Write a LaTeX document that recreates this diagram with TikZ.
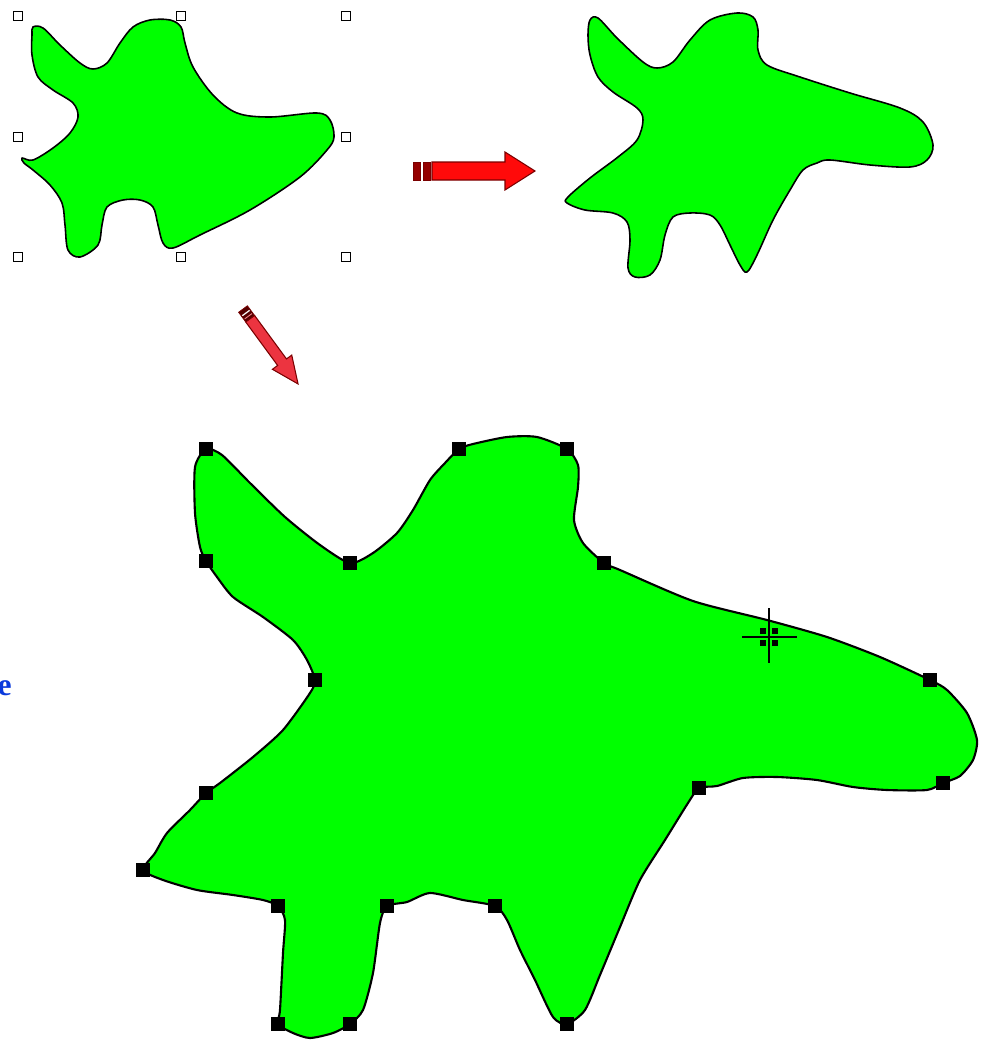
\documentclass[tikz,border=0pt]{standalone}
\usepackage{fontspec}
\newfontfamily\serifb{Liberation Serif}
\definecolor{shapegreen}{HTML}{00FF00}
\definecolor{arrowred}{HTML}{FF0A0A}
\definecolor{darkred}{HTML}{7A0000}
\definecolor{pencilred}{HTML}{EC3440}
\definecolor{textblue}{HTML}{0A3ADC}
\begin{document}
\begin{tikzpicture}[x=0.02cm,y=-0.02cm,
  blob/.style={fill=shapegreen,draw=black,line width=0.9pt,line join=round},
  bigblob/.style={fill=shapegreen,draw=black,line width=1.2pt,line join=round},
  handle/.style={draw=black,fill=white,line width=0.6pt,minimum size=0.17cm,inner sep=0pt,rectangle},
  node/.style={fill=black,draw=none,minimum size=0.27cm,inner sep=0pt,rectangle},
  blockarrow/.style={fill=arrowred,draw=darkred,line width=0.6pt,line join=miter},
  pencil/.style={fill=pencilred,draw=darkred,line width=0.6pt}]
\useasboundingbox (0,0) rectangle (982,1041);

% ---------- top-left shape with selection handles ----------
\draw[blob] plot[smooth cycle,tension=0.55] coordinates {
 (33,27) (43,28) (60,45) (80,63) (93,69) (107,63) (120,43) (133,27) (150,20) (170,20)
 (181,27) (185,43) (193,67) (213,95) (237,113) (270,117) (317,113) (330,120) (334,137)
 (327,150) (300,177) (250,210) (200,235) (173,248) (163,243) (158,225) (153,207) (140,200)
 (123,200) (107,207) (102,225) (98,245) (80,257) (68,250) (65,225) (62,203) (50,185)
 (33,170) (24,163) (22,158) (33,160) (53,148) (70,133) (78,117) (73,103) (53,90)
 (38,77) (32,55) (32,35)};
\node[handle] (h1) at (18,16) {};
\node[handle] (h2) at (181,16) {};
\node[handle] (h3) at (346,16) {};
\node[handle] (h4) at (18,137) {};
\node[handle] (h5) at (346,137) {};
\node[handle] (h6) at (18,257) {};
\node[handle] (h7) at (181,257) {};
\node[handle] (h8) at (346,257) {};

% ---------- top-right shape ----------
\draw[blob] plot[smooth cycle,tension=0.55] coordinates {
 (590,20) (598,18) (617,38) (643,62) (657,68) (673,62) (690,40) (710,20) (737,13) (753,17)
 (758,30) (758,50) (767,65) (800,77) (850,93) (900,108) (923,122) (933,145) (927,160)
 (910,167) (870,165) (830,160) (817,163) (803,170) (790,190) (773,220) (757,255) (747,272)
 (740,265) (730,245) (720,225) (710,215) (690,213) (673,217) (665,235) (660,260) (650,275)
 (635,277) (628,268) (630,240) (627,222) (613,213) (585,210) (567,203) (568,197) (590,178)
 (618,157) (637,140) (643,120) (637,108) (613,92) (598,77) (590,55) (588,35)};

% ---------- horizontal block arrow ----------
\draw[fill=darkred!80!red,draw=darkred,line width=0.5pt] (413,162) rectangle (420,180);
\draw[fill=darkred!80!red,draw=darkred,line width=0.5pt] (423,162) rectangle (430,180);
\draw[blockarrow] (432,162) -- (505,162) -- (505,152) -- (535,171) -- (505,190) -- (505,180) -- (432,180) -- cycle;

% ---------- pencil arrow ----------
\begin{scope}[shift={(243,309)},rotate=-53.7]
  \draw[pencil] (12,-5.5) -- (66,-5.5) -- (66,-12) -- (93,0) -- (66,12) -- (66,5.5) -- (12,5.5) -- cycle;
  \draw[fill=darkred!70!black,draw=darkred] (0,-5.5) rectangle (12,5.5);
  \draw[white,line width=0.7pt] (5,-4.5) -- (5,4.5);
  \draw[pencilred!60!white,line width=0.5pt] (9,-4.5) -- (9,4.5);
\end{scope}

% ---------- big shape with node handles ----------
\draw[bigblob] plot[smooth cycle,tension=0.42] coordinates {
 (206,449) (222,455) (250,483) (285,517) (320,545) (350,563) (373,553) (397,533) (413,510)
 (430,480) (445,463) (459,449) (473,444) (507,437) (537,437) (567,449) (578,465) (578,487)
 (574,520) (583,543) (604,563) (620,570) (693,601) (767,620) (827,637) (880,657) (930,680)
 (947,690) (967,713) (977,740) (973,760) (960,776) (943,783) (927,790) (887,790) (853,787)
 (817,780) (777,777) (743,778) (717,786) (699,788) (688,803) (665,840) (640,880) (620,927)
 (600,975) (585,1010) (567,1024) (553,1017) (535,980) (520,950) (507,920) (495,906) (463,900)
 (430,893) (407,902) (387,906) (380,923) (373,973) (363,1010) (350,1024) (333,1033)
 (310,1038) (293,1033) (278,1024) (280,1010) (283,953) (285,920) (278,906) (263,900)
 (233,895) (197,890) (163,880) (143,870) (155,853) (167,833) (190,810) (206,793) (220,783)
 (253,757) (283,730) (310,693) (315,680) (307,660) (293,640) (263,617) (233,597) (217,577)
 (206,561) (200,547) (195,513) (195,467)};
\node[node] (nA) at (206,449) {};
\node[node] (nB) at (206,561) {};
\node[node] (nC) at (350,563) {};
\node[node] (nD) at (459,449) {};
\node[node] (nE) at (567,449) {};
\node[node] (nF) at (604,563) {};
\node[node] (nG) at (930,680) {};
\node[node] (nH) at (943,783) {};
\node[node] (nI) at (699,788) {};
\node[node] (nJ) at (567,1024) {};
\node[node] (nK) at (495,906) {};
\node[node] (nL) at (387,906) {};
\node[node] (nM) at (350,1024) {};
\node[node] (nN) at (278,1024) {};
\node[node] (nO) at (278,906) {};
\node[node] (nP) at (143,870) {};
\node[node] (nQ) at (206,793) {};
\node[node] (nR) at (315,680) {};

% ---------- crosshair cursor ----------
\coordinate (cur) at (769,637);
\draw[black,line width=1.1pt] ([xshift=-0.54cm]cur) -- ([xshift=0.56cm]cur);
\draw[black,line width=1.1pt] ([yshift=0.58cm]cur) -- ([yshift=-0.52cm]cur);
\foreach \dx/\dy in {-6/-6,6/-6,-6/6,6/6}
  \fill[black] ([xshift=\dx*0.02cm-0.06cm,yshift=-\dy*0.02cm-0.06cm]cur) rectangle ++(0.12cm,0.12cm);

% ---------- stray text ----------
\node[anchor=east,inner sep=0pt,text=textblue,font=\serifb\bfseries\fontsize{18}{18}\selectfont] (etext) at (12,688) {e};
\end{tikzpicture}
\end{document}
